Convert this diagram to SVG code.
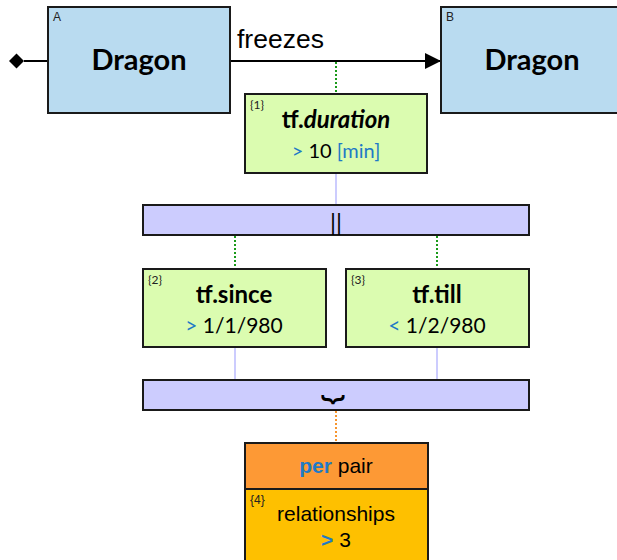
<svg xmlns="http://www.w3.org/2000/svg" width="617" height="560" viewBox="0 0 617 560">
<defs>
<style>
.box{stroke:#1a1a1a;stroke-width:2}
.ent{fill:#b9dbf0}
.grn{fill:#dbfcb0}
.bar{fill:#ccccfe}
.cal{font-family:Lato,"Open Sans",sans-serif}
.ar{font-family:"Liberation Sans",Arial,sans-serif}
.tag{font-size:12px;fill:#222}
.blue{fill:#1f7ac6}
</style>
<marker id="arr" markerWidth="16" markerHeight="16" refX="16" refY="8" orient="auto" markerUnits="userSpaceOnUse"><path d="M0,0 L16,8 L0,16 Z" fill="#000"/></marker>
</defs>
<g id="connectors">
<line x1="24" y1="61" x2="441" y2="61" stroke="#000" stroke-width="2" marker-end="url(#arr)"/>
<path d="M9,61 L16.5,53.5 L24,61 L16.5,68.5 Z" fill="#000"/>
<line x1="336" y1="62" x2="336" y2="94" stroke="#1a9a1a" stroke-width="2" stroke-dasharray="2,2"/>
<line x1="336" y1="173" x2="336" y2="205" stroke="#ccccfe" stroke-width="2"/>
<line x1="235" y1="236" x2="235" y2="269" stroke="#1a9a1a" stroke-width="2" stroke-dasharray="2,2"/>
<line x1="437" y1="236" x2="437" y2="269" stroke="#1a9a1a" stroke-width="2" stroke-dasharray="2,2"/>
<line x1="235" y1="347" x2="235" y2="380" stroke="#ccccfe" stroke-width="2"/>
<line x1="437" y1="347" x2="437" y2="380" stroke="#ccccfe" stroke-width="2"/>
<line x1="336" y1="411" x2="336" y2="443" stroke="#f7952e" stroke-width="2" stroke-dasharray="2,2"/>
<text x="237" y="48" class="ar" font-size="26.5" fill="#000">freezes</text>
</g>
<g id="nodeA">
<rect x="48" y="7" width="182" height="106" class="box ent"/>
<text x="53" y="21" class="ar tag">A</text>
<text x="139" y="70" class="cal" font-size="29" font-weight="bold" text-anchor="middle">Dragon</text>
</g>
<g id="nodeB">
<rect x="441" y="7" width="190" height="106" class="box ent"/>
<text x="446" y="21" class="ar tag">B</text>
<text x="532" y="70" class="cal" font-size="29" font-weight="bold" text-anchor="middle">Dragon</text>
</g>
<g id="duration">
<rect x="245" y="94" width="182" height="79" class="box grn"/>
<text x="250" y="109" class="cal tag">{1}</text>
<text x="336" y="128" class="cal" font-size="24" font-weight="bold" text-anchor="middle">tf.<tspan font-style="italic">duration</tspan></text>
<text x="336" y="158" class="cal" font-size="20" text-anchor="middle"><tspan class="blue">&gt;</tspan> 10 <tspan class="blue">[min]</tspan></text>
</g>
<g id="par">
<rect x="143" y="205" width="386" height="30" class="box bar"/>
<text x="336" y="231" class="cal" font-size="24" text-anchor="middle">||</text>
</g>
<g id="since">
<rect x="143" y="269" width="183" height="78" class="box grn"/>
<text x="148" y="284" class="cal tag">{2}</text>
<text x="234" y="303" class="cal" font-size="24" font-weight="bold" text-anchor="middle">tf.since</text>
<text x="234" y="333" class="cal" font-size="21" text-anchor="middle"><tspan class="blue">&gt;</tspan> 1/1/980</text>
</g>
<g id="till">
<rect x="346" y="269" width="183" height="78" class="box grn"/>
<text x="351" y="284" class="cal tag">{3}</text>
<text x="437" y="303" class="cal" font-size="24" font-weight="bold" text-anchor="middle">tf.till</text>
<text x="437" y="333" class="cal" font-size="21" text-anchor="middle"><tspan class="blue">&lt;</tspan> 1/2/980</text>
</g>
<g id="group">
<rect x="143" y="380" width="386" height="30" class="box bar"/>
<text x="333" y="392" font-size="40" text-anchor="middle" font-family="'DejaVu Sans',sans-serif">⏟</text>
</g>
<g id="per">
<rect x="245" y="443" width="183" height="46" class="box" fill="#fd9935"/>
<text x="336" y="473" class="ar" font-size="21" text-anchor="middle"><tspan class="blue" font-weight="bold">per</tspan> pair</text>
</g>
<g id="rel">
<rect x="245" y="489" width="183" height="80" class="box" fill="#fec000"/>
<text x="250" y="504" class="ar tag">{4}</text>
<text x="336" y="521" class="ar" font-size="21" text-anchor="middle">relationships</text>
<text x="336" y="547" class="ar" font-size="21" text-anchor="middle"><tspan class="blue" font-weight="bold">&gt;</tspan> 3</text>
</g>
</svg>
